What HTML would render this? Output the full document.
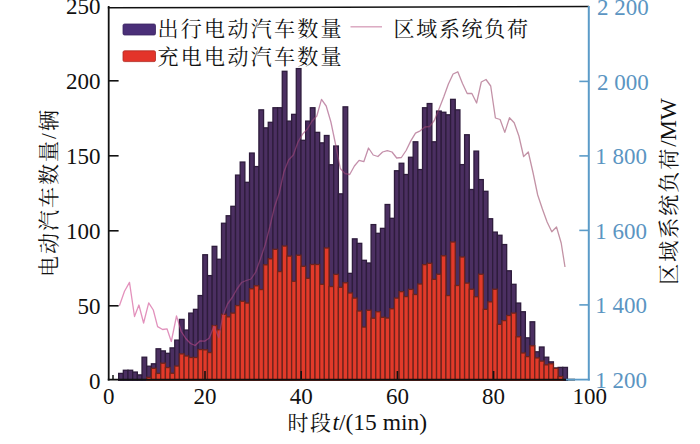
<!DOCTYPE html>
<html lang="zh"><head><meta charset="utf-8"><title>chart</title>
<style>
html,body{margin:0;padding:0;background:#fff}
body{width:700px;height:444px;overflow:hidden}
svg{display:block}
.n{font-family:"Liberation Serif",serif;font-size:23px}
.c{font-family:"Liberation Serif","Noto Serif CJK SC",serif;font-size:21px}
</style></head><body>
<svg width="700" height="444" viewBox="0 0 700 444">
<rect width="700" height="444" fill="#fff"/>
<g fill="#4b2f61" stroke="#2e1c3c" stroke-width="1.3">
<rect x="118.65" y="373.40" width="4.67" height="6.90"/>
<rect x="123.33" y="370.25" width="4.67" height="10.05"/>
<rect x="128.00" y="370.25" width="4.67" height="10.05"/>
<rect x="132.68" y="372.05" width="4.67" height="8.25"/>
<rect x="137.35" y="374.90" width="4.67" height="5.40"/>
<rect x="142.03" y="357.20" width="4.67" height="23.10"/>
<rect x="146.70" y="366.20" width="4.67" height="14.10"/>
<rect x="151.38" y="363.80" width="4.67" height="16.50"/>
<rect x="156.05" y="348.80" width="4.67" height="31.50"/>
<rect x="160.72" y="350.90" width="4.67" height="29.40"/>
<rect x="165.40" y="353.30" width="4.67" height="27.00"/>
<rect x="170.07" y="347.90" width="4.67" height="32.40"/>
<rect x="174.75" y="340.10" width="4.67" height="40.20"/>
<rect x="179.43" y="319.40" width="4.67" height="60.90"/>
<rect x="184.10" y="330.05" width="4.67" height="50.25"/>
<rect x="188.78" y="313.10" width="4.67" height="67.20"/>
<rect x="193.45" y="309.35" width="4.67" height="70.95"/>
<rect x="198.12" y="295.55" width="4.67" height="84.75"/>
<rect x="202.80" y="254.75" width="4.67" height="125.55"/>
<rect x="207.48" y="275.60" width="4.67" height="104.70"/>
<rect x="212.15" y="246.35" width="4.67" height="133.95"/>
<rect x="216.82" y="259.25" width="4.67" height="121.05"/>
<rect x="221.50" y="223.25" width="4.67" height="157.05"/>
<rect x="226.18" y="215.75" width="4.67" height="164.55"/>
<rect x="230.85" y="206.30" width="4.67" height="174.00"/>
<rect x="235.53" y="175.10" width="4.67" height="205.20"/>
<rect x="240.20" y="162.05" width="4.67" height="218.25"/>
<rect x="244.88" y="182.30" width="4.67" height="198.00"/>
<rect x="249.55" y="153.05" width="4.67" height="227.25"/>
<rect x="254.22" y="166.55" width="4.67" height="213.75"/>
<rect x="258.90" y="109.85" width="4.67" height="270.45"/>
<rect x="263.57" y="127.85" width="4.67" height="252.45"/>
<rect x="268.25" y="122.30" width="4.67" height="258.00"/>
<rect x="272.93" y="107.75" width="4.67" height="272.55"/>
<rect x="277.60" y="107.75" width="4.67" height="272.55"/>
<rect x="282.27" y="71.30" width="4.67" height="309.00"/>
<rect x="286.95" y="121.10" width="4.67" height="259.20"/>
<rect x="291.62" y="114.35" width="4.67" height="265.95"/>
<rect x="296.30" y="68.60" width="4.67" height="311.70"/>
<rect x="300.98" y="140.30" width="4.67" height="240.00"/>
<rect x="305.65" y="121.10" width="4.67" height="259.20"/>
<rect x="310.32" y="107.75" width="4.67" height="272.55"/>
<rect x="315.00" y="132.35" width="4.67" height="247.95"/>
<rect x="319.68" y="142.85" width="4.67" height="237.45"/>
<rect x="324.35" y="135.50" width="4.67" height="244.80"/>
<rect x="329.02" y="164.75" width="4.67" height="215.55"/>
<rect x="333.70" y="146.00" width="4.67" height="234.30"/>
<rect x="338.38" y="193.85" width="4.67" height="186.45"/>
<rect x="343.05" y="106.85" width="4.67" height="273.45"/>
<rect x="347.73" y="273.35" width="4.67" height="106.95"/>
<rect x="352.40" y="238.85" width="4.67" height="141.45"/>
<rect x="357.07" y="243.35" width="4.67" height="136.95"/>
<rect x="361.75" y="260.30" width="4.67" height="120.00"/>
<rect x="366.42" y="263.00" width="4.67" height="117.30"/>
<rect x="371.10" y="224.60" width="4.67" height="155.70"/>
<rect x="375.77" y="233.30" width="4.67" height="147.00"/>
<rect x="380.45" y="228.35" width="4.67" height="151.95"/>
<rect x="385.12" y="204.50" width="4.67" height="175.80"/>
<rect x="389.80" y="218.30" width="4.67" height="162.00"/>
<rect x="394.48" y="170.75" width="4.67" height="209.55"/>
<rect x="399.15" y="163.25" width="4.67" height="217.05"/>
<rect x="403.83" y="174.50" width="4.67" height="205.80"/>
<rect x="408.50" y="157.25" width="4.67" height="223.05"/>
<rect x="413.17" y="141.80" width="4.67" height="238.50"/>
<rect x="417.85" y="169.55" width="4.67" height="210.75"/>
<rect x="422.52" y="107.75" width="4.67" height="272.55"/>
<rect x="427.20" y="103.55" width="4.67" height="276.75"/>
<rect x="431.88" y="141.80" width="4.67" height="238.50"/>
<rect x="436.55" y="111.05" width="4.67" height="269.25"/>
<rect x="441.23" y="112.25" width="4.67" height="268.05"/>
<rect x="445.90" y="114.80" width="4.67" height="265.50"/>
<rect x="450.58" y="99.35" width="4.67" height="280.95"/>
<rect x="455.25" y="109.85" width="4.67" height="270.45"/>
<rect x="459.92" y="164.60" width="4.67" height="215.70"/>
<rect x="464.60" y="134.75" width="4.67" height="245.55"/>
<rect x="469.27" y="189.50" width="4.67" height="190.80"/>
<rect x="473.95" y="151.10" width="4.67" height="229.20"/>
<rect x="478.62" y="179.60" width="4.67" height="200.70"/>
<rect x="483.30" y="191.30" width="4.67" height="189.00"/>
<rect x="487.98" y="218.75" width="4.67" height="161.55"/>
<rect x="492.65" y="232.10" width="4.67" height="148.20"/>
<rect x="497.33" y="235.25" width="4.67" height="145.05"/>
<rect x="502.00" y="244.55" width="4.67" height="135.75"/>
<rect x="506.67" y="270.80" width="4.67" height="109.50"/>
<rect x="511.35" y="284.30" width="4.67" height="96.00"/>
<rect x="516.02" y="303.05" width="4.67" height="77.25"/>
<rect x="520.70" y="311.75" width="4.67" height="68.55"/>
<rect x="525.38" y="337.85" width="4.67" height="42.45"/>
<rect x="530.05" y="321.80" width="4.67" height="58.50"/>
<rect x="534.73" y="351.80" width="4.67" height="28.50"/>
<rect x="539.40" y="347.00" width="4.67" height="33.30"/>
<rect x="544.08" y="357.20" width="4.67" height="23.10"/>
<rect x="548.75" y="361.85" width="4.67" height="18.45"/>
<rect x="553.42" y="368.00" width="4.67" height="12.30"/>
<rect x="558.10" y="367.40" width="4.67" height="12.90"/>
<rect x="562.77" y="367.40" width="4.67" height="12.90"/>
</g>
<g fill="#e23a2a" stroke="#6e241c" stroke-width="1.3">
<rect x="146.70" y="377.30" width="4.67" height="3.00"/>
<rect x="151.38" y="368.30" width="4.67" height="12.00"/>
<rect x="156.05" y="373.40" width="4.67" height="6.90"/>
<rect x="160.72" y="363.20" width="4.67" height="17.10"/>
<rect x="165.40" y="367.55" width="4.67" height="12.75"/>
<rect x="170.07" y="373.25" width="4.67" height="7.05"/>
<rect x="174.75" y="366.05" width="4.67" height="14.25"/>
<rect x="179.43" y="353.90" width="4.67" height="26.40"/>
<rect x="184.10" y="356.00" width="4.67" height="24.30"/>
<rect x="188.78" y="357.50" width="4.67" height="22.80"/>
<rect x="193.45" y="357.50" width="4.67" height="22.80"/>
<rect x="198.12" y="349.55" width="4.67" height="30.75"/>
<rect x="202.80" y="349.85" width="4.67" height="30.45"/>
<rect x="207.48" y="352.55" width="4.67" height="27.75"/>
<rect x="212.15" y="325.55" width="4.67" height="54.75"/>
<rect x="216.82" y="329.75" width="4.67" height="50.55"/>
<rect x="221.50" y="314.30" width="4.67" height="66.00"/>
<rect x="226.18" y="316.85" width="4.67" height="63.45"/>
<rect x="230.85" y="313.10" width="4.67" height="67.20"/>
<rect x="235.53" y="305.60" width="4.67" height="74.70"/>
<rect x="240.20" y="301.25" width="4.67" height="79.05"/>
<rect x="244.88" y="303.05" width="4.67" height="77.25"/>
<rect x="249.55" y="288.80" width="4.67" height="91.50"/>
<rect x="254.22" y="285.80" width="4.67" height="94.50"/>
<rect x="258.90" y="289.55" width="4.67" height="90.75"/>
<rect x="263.57" y="264.80" width="4.67" height="115.50"/>
<rect x="268.25" y="258.80" width="4.67" height="121.50"/>
<rect x="272.93" y="249.35" width="4.67" height="130.95"/>
<rect x="277.60" y="271.55" width="4.67" height="108.75"/>
<rect x="282.27" y="246.05" width="4.67" height="134.25"/>
<rect x="286.95" y="256.10" width="4.67" height="124.20"/>
<rect x="291.62" y="281.30" width="4.67" height="99.00"/>
<rect x="296.30" y="255.20" width="4.67" height="125.10"/>
<rect x="300.98" y="266.30" width="4.67" height="114.00"/>
<rect x="305.65" y="278.30" width="4.67" height="102.00"/>
<rect x="310.32" y="264.50" width="4.67" height="115.80"/>
<rect x="315.00" y="264.50" width="4.67" height="115.80"/>
<rect x="319.68" y="284.30" width="4.67" height="96.00"/>
<rect x="324.35" y="248.00" width="4.67" height="132.30"/>
<rect x="329.02" y="286.55" width="4.67" height="93.75"/>
<rect x="333.70" y="274.40" width="4.67" height="105.90"/>
<rect x="338.38" y="287.30" width="4.67" height="93.00"/>
<rect x="343.05" y="282.80" width="4.67" height="97.50"/>
<rect x="347.73" y="293.00" width="4.67" height="87.30"/>
<rect x="352.40" y="298.10" width="4.67" height="82.20"/>
<rect x="357.07" y="311.00" width="4.67" height="69.30"/>
<rect x="361.75" y="327.05" width="4.67" height="53.25"/>
<rect x="366.42" y="310.25" width="4.67" height="70.05"/>
<rect x="371.10" y="318.20" width="4.67" height="62.10"/>
<rect x="375.77" y="311.75" width="4.67" height="68.55"/>
<rect x="380.45" y="317.30" width="4.67" height="63.00"/>
<rect x="385.12" y="318.05" width="4.67" height="62.25"/>
<rect x="389.80" y="308.75" width="4.67" height="71.55"/>
<rect x="394.48" y="298.10" width="4.67" height="82.20"/>
<rect x="399.15" y="291.65" width="4.67" height="88.65"/>
<rect x="403.83" y="296.60" width="4.67" height="83.70"/>
<rect x="408.50" y="289.40" width="4.67" height="90.90"/>
<rect x="413.17" y="294.50" width="4.67" height="85.80"/>
<rect x="417.85" y="284.00" width="4.67" height="96.30"/>
<rect x="422.52" y="264.65" width="4.67" height="115.65"/>
<rect x="427.20" y="263.30" width="4.67" height="117.00"/>
<rect x="431.88" y="279.35" width="4.67" height="100.95"/>
<rect x="436.55" y="274.25" width="4.67" height="106.05"/>
<rect x="441.23" y="255.80" width="4.67" height="124.50"/>
<rect x="445.90" y="295.55" width="4.67" height="84.75"/>
<rect x="450.58" y="242.00" width="4.67" height="138.30"/>
<rect x="455.25" y="285.50" width="4.67" height="94.80"/>
<rect x="459.92" y="257.00" width="4.67" height="123.30"/>
<rect x="464.60" y="283.10" width="4.67" height="97.20"/>
<rect x="469.27" y="289.25" width="4.67" height="91.05"/>
<rect x="473.95" y="296.75" width="4.67" height="83.55"/>
<rect x="478.62" y="274.25" width="4.67" height="106.05"/>
<rect x="483.30" y="309.35" width="4.67" height="70.95"/>
<rect x="487.98" y="301.85" width="4.67" height="78.45"/>
<rect x="492.65" y="289.25" width="4.67" height="91.05"/>
<rect x="497.33" y="324.35" width="4.67" height="55.95"/>
<rect x="502.00" y="320.60" width="4.67" height="59.70"/>
<rect x="506.67" y="315.50" width="4.67" height="64.80"/>
<rect x="511.35" y="313.10" width="4.67" height="67.20"/>
<rect x="516.02" y="336.80" width="4.67" height="43.50"/>
<rect x="520.70" y="353.00" width="4.67" height="27.30"/>
<rect x="525.38" y="356.60" width="4.67" height="23.70"/>
<rect x="530.05" y="345.80" width="4.67" height="34.50"/>
<rect x="534.73" y="357.95" width="4.67" height="22.35"/>
<rect x="539.40" y="361.10" width="4.67" height="19.20"/>
<rect x="544.08" y="364.85" width="4.67" height="15.45"/>
<rect x="548.75" y="363.80" width="4.67" height="16.50"/>
<rect x="553.42" y="368.30" width="4.67" height="12.00"/>
<rect x="558.10" y="376.55" width="4.67" height="3.75"/>
</g>
<rect x="112.2" y="375" width="1.6" height="5" fill="#222"/>
<defs><linearGradient id="lg" gradientUnits="userSpaceOnUse" x1="119" y1="0" x2="566" y2="0"><stop offset="0" stop-color="#d2488f"/><stop offset="0.12" stop-color="#cc4890"/><stop offset="0.25" stop-color="#a2457e"/><stop offset="0.6" stop-color="#9c4672"/><stop offset="1" stop-color="#9a4a68"/></linearGradient></defs>
<polyline points="119.4,305.7 124.5,291.3 129.5,282.4 134.5,316.5 138.9,305.0 143.6,323.0 148.7,302.8 153.3,310.0 157.6,326.6 162.6,329.5 167.0,328.8 171.3,341.5 176.5,316.0 181.2,331.5 185.8,338.5 190.5,343.5 195.2,345.5 199.9,341.0 204.6,341.2 209.3,338.0 214.0,326.0 218.7,337.6 222.8,316.0 227.5,304.0 232.2,297.5 237.0,289.0 241.6,282.5 246.3,280.5 251.0,279.0 255.7,272.0 260.4,259.0 265.1,245.0 269.8,227.0 274.5,207.0 279.2,193.0 283.9,172.0 288.6,160.0 293.3,155.0 298.0,142.0 302.7,134.0 307.4,129.0 312.1,121.0 316.8,116.0 321.5,99.4 326.2,106.0 330.9,122.0 335.6,144.5 340.3,168.5 345.0,173.5 349.7,174.5 354.4,166.0 359.1,160.3 363.8,161.7 368.5,148.0 373.2,155.0 377.9,156.5 382.6,152.0 387.3,150.6 392.0,152.0 396.7,158.0 401.4,157.5 406.1,150.5 410.8,140.9 415.5,133.2 420.2,130.8 424.9,127.0 429.6,126.5 434.3,120.5 439.0,109.0 443.7,97.0 448.4,84.0 453.1,74.0 457.8,71.8 462.5,83.5 467.2,93.5 471.9,93.5 476.6,103.0 481.3,82.0 486.0,79.5 490.7,86.0 495.4,118.0 500.1,119.5 504.8,132.4 509.5,117.7 514.2,122.8 518.9,136.0 523.6,156.5 528.3,152.0 533.0,172.5 537.7,195.0 542.4,209.0 547.1,222.0 551.8,231.8 556.5,227.0 561.2,243.0 565.0,267.0" fill="none" stroke="url(#lg)" stroke-width="1.3" stroke-linejoin="round" opacity="0.6"/>
<g stroke="#111" stroke-width="1.8" fill="none">
<path d="M108.7 6v374.4"/>
<path d="M107.8 379.6H575"/>
</g>
<path d="M107.8 7.8L589 6.5" stroke="#111" stroke-width="1.5" fill="none"/>
<path d="M588.8 6v374.4" stroke="#5b9bc8" stroke-width="2" fill="none"/>
<path d="M566 379.6H589.8" stroke="#5b9bc8" stroke-width="1.8" fill="none"/>
<g stroke="#111" stroke-width="1.6">
<path d="M108 305.8H118.6"/>
<path d="M108 230.8H118.6"/>
<path d="M108 155.8H118.6"/>
<path d="M108 80.8H118.6"/>
<path d="M205.0 380V371"/>
<path d="M301.2 380V371"/>
<path d="M397.4 380V371"/>
<path d="M493.6 380V371"/>
</g>
<g stroke="#5b9bc8" stroke-width="1.6">
<path d="M579.3 304.9H589"/>
<path d="M579.3 230.4H589"/>
<path d="M579.3 155.9H589"/>
<path d="M579.3 81.4H589"/>
</g>
<g class="n" fill="#111" text-anchor="end">
<text x="100.5" y="388.7">0</text>
<text x="100.5" y="313.7">50</text>
<text x="100.5" y="238.7">100</text>
<text x="100.5" y="163.7">150</text>
<text x="100.5" y="88.7">200</text>
<text x="100.5" y="13.7">250</text>
</g>
<g class="n" fill="#111" text-anchor="middle">
<text x="108.8" y="404.3">0</text>
<text x="205.0" y="404.3">20</text>
<text x="301.2" y="404.3">40</text>
<text x="397.4" y="404.3">60</text>
<text x="493.6" y="404.3">80</text>
<text x="589.8" y="404.3">100</text>
</g>
<g class="n" fill="#5b95c2">
<text x="595.2" y="387.8">1 200</text>
<text x="595.2" y="313.3">1 400</text>
<text x="595.2" y="238.8">1 600</text>
<text x="595.2" y="164.3">1 800</text>
<text x="597.0" y="89.8">2 000</text>
<text x="597.0" y="15.3">2 200</text>
</g>
<text class="c" x="357.3" y="430.3" text-anchor="middle" fill="#111" font-size="22" letter-spacing="1.5">时段<tspan font-style="italic" letter-spacing="0" font-size="23.5">t</tspan><tspan letter-spacing="0" font-size="23.5">/(15 min)</tspan></text>
<text class="c" transform="translate(56,192.5) rotate(-90)" text-anchor="middle" fill="#111" font-size="21.5" letter-spacing="2">电动汽车数量/辆</text>
<text class="c" transform="translate(675.5,191.5) rotate(-90)" text-anchor="middle" fill="#111" font-size="21.5" letter-spacing="2">区域系统负荷<tspan letter-spacing="0" font-size="23">/MW</tspan></text>
<rect x="123" y="24" width="32.5" height="11" rx="1.5" fill="#4a2f78" stroke="#3a2560" stroke-width="0.8"/>
<rect x="123" y="50.8" width="32.5" height="10.8" rx="1.5" fill="#e3342a" stroke="#b02a22" stroke-width="0.8"/>
<text class="c" x="157.5" y="36" fill="#111" letter-spacing="2.3">出行电动汽车数量</text>
<text class="c" x="157.5" y="64.3" fill="#111" letter-spacing="2.3">充电电动汽车数量</text>
<path d="M350.5 26.8H382" stroke="#d9a3bd" stroke-width="1.4"/>
<text class="c" x="393.5" y="36" fill="#111" letter-spacing="1.7">区域系统负荷</text>
</svg>
</body></html>
